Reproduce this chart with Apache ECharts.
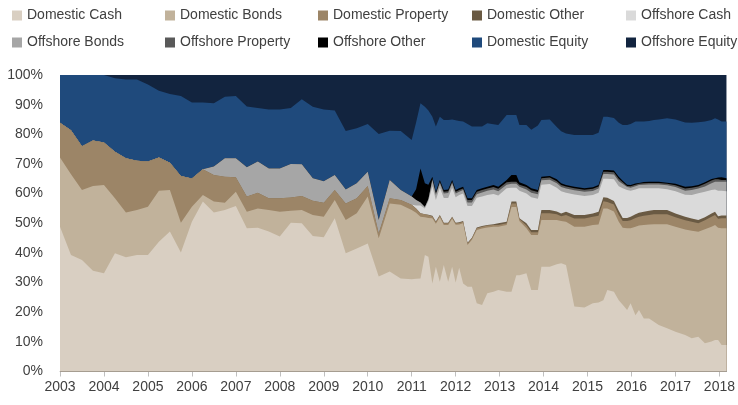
<!DOCTYPE html>
<html>
<head>
<meta charset="utf-8">
<script src="https://cdn.jsdelivr.net/npm/echarts@6/dist/echarts.min.js"></script>
<style>
html, body { margin: 0; padding: 0; background: #fff; }
#chart { width: 738px; height: 405px; }
</style>
</head>
<body>
<div id="chart"></div>
<script>
// decimal years
var dates = [
    2003.00, 2003.25, 2003.50, 2003.75, 2004.00, 2004.25, 2004.50, 2004.75, 2005.00, 2005.25, 2005.50, 2005.75,
    2006.00, 2006.25, 2006.50, 2006.75, 2007.00, 2007.25, 2007.50, 2007.75, 2008.00, 2008.25, 2008.50, 2008.75,
    2009.00, 2009.25, 2009.50, 2009.75, 2010.00, 2010.25, 2010.50, 2010.75, 2011.00,
    2011.10, 2011.20, 2011.30, 2011.38, 2011.47, 2011.55, 2011.64, 2011.73, 2011.83, 2011.92,
    2012.00, 2012.08, 2012.17, 2012.27, 2012.37, 2012.48, 2012.60, 2012.72, 2012.86, 2012.97,
    2013.16, 2013.27, 2013.38, 2013.45, 2013.61, 2013.72, 2013.87, 2013.95,
    2014.14, 2014.30, 2014.40, 2014.51, 2014.70, 2014.93, 2015.12, 2015.25, 2015.36, 2015.45,
    2015.60, 2015.71, 2015.80, 2015.90, 2015.98, 2016.09, 2016.17, 2016.28, 2016.40, 2016.51,
    2016.62, 2016.81, 2017.00, 2017.22, 2017.37, 2017.52, 2017.67, 2017.82, 2017.90, 2017.97,
    2018.05, 2018.16
];

var domesticCash = [
    48.8, 39.3, 37.6, 34.0, 33.1, 39.9, 38.5, 39.3, 39.3, 43.8, 47.2, 40.1,
    50.5, 57.3, 53.6, 54.5, 55.8, 48.3, 48.5, 47.2, 45.5, 50.2, 50.0, 45.7,
    45.3, 51.7, 39.9, 41.5, 43.2, 32.0, 33.7, 31.4, 31.1,
    31.3, 31.4, 39.3, 38.7, 29.7, 35.3, 30.3, 35.9, 30.3, 35.3,
    30.0, 35.0, 29.7, 28.6, 28.6, 23.0, 22.4, 26.4, 26.9, 27.5,
    26.9, 26.9, 32.5, 32.5, 33.1, 27.5, 27.5, 35.3,
    35.3, 36.2, 36.5, 35.9, 21.9, 21.6, 23.0, 23.3, 24.0, 27.5,
    26.9, 24.0, 22.5, 20.7, 23.0, 19.0, 20.7, 17.9, 17.9, 16.8,
    15.7, 14.6, 13.4, 12.3, 11.2, 11.7, 9.5, 10.1, 10.6, 10.6,
    8.9, 8.9
];
var domesticBonds = [
    23.4, 27.2, 23.6, 28.6, 29.8, 18.5, 15.1, 15.2, 16.3, 17.2, 14.0, 10.1,
    5.1, 2.2, 3.7, 2.4, 4.8, 5.6, 6.5, 7.3, 8.4, 4.0, 4.5, 7.1,
    6.9, 6.1, 11.2, 11.9, 15.8, 12.9, 23.0, 24.8, 23.4,
    22.2, 20.8, 12.7, 13.1, 22.0, 14.5, 21.7, 13.5, 19.1, 16.2,
    19.5, 14.6, 20.3, 14.1, 15.8, 24.7, 25.8, 22.2, 21.9, 21.3,
    22.5, 28.6, 23.0, 18.3, 15.2, 18.5, 18.5, 15.8,
    15.8, 14.9, 14.3, 14.6, 26.9, 27.2, 26.4, 26.3, 31.0, 27.5,
    27.1, 26.5, 26.0, 27.6, 25.3, 29.8, 28.5, 31.5, 31.7, 32.9,
    34.0, 35.1, 35.4, 35.6, 36.3, 35.4, 38.5, 38.7, 38.8, 37.9,
    39.4, 39.4
];
var domesticProperty = [
    11.7, 14.9, 14.8, 15.3, 14.3, 15.7, 18.3, 16.6, 15.2, 11.2, 9.2, 15.7,
    9.5, 8.7, 9.0, 8.8, 4.9, 5.1, 5.3, 3.9, 4.5, 4.5, 4.7, 4.8,
    4.7, 3.4, 5.6, 5.0, 3.6, 1.7, 1.7, 1.6, 1.7,
    1.5, 1.2, 1.0, 1.0, 0.6, 0.6, 0.6, 0.6, 0.6, 0.5,
    0.5, 0.5, 0.5, 0.5, 0.5, 0.6, 0.6, 0.6, 0.6, 0.6,
    0.6, 1.2, 1.2, 0.6, 0.9, 1.0, 1.0, 2.3,
    2.3, 1.9, 1.6, 2.3, 2.8, 2.8, 2.8, 2.9, 2.4, 2.2,
    2.3, 2.3, 2.3, 2.5, 2.7, 3.0, 3.0, 3.1, 3.2, 3.3,
    3.3, 3.3, 3.2, 3.1, 3.0, 2.9, 3.0, 3.4, 3.4, 3.0,
    3.4, 3.4
];
var domesticOther = [
    0, 0, 0, 0, 0, 0, 0, 0, 0, 0, 0, 0,
    0, 0, 0, 0, 0, 0, 0, 0, 0, 0, 0, 0,
    0, 0, 0, 0, 0, 0, 0, 0, 0,
    0, 0, 0, 0.1, 0.2, 0.2, 0.2, 0.2, 0.2, 0.2,
    0.2, 0.2, 0.3, 0.2, 0.2, 0.3, 0.3, 0.2, 0.3, 0.6,
    0.5, 0.6, 0.6, 0.3, 0.8, 0.7, 0.7, 1.1,
    1.1, 1.0, 0.9, 1.1, 1.2, 1.2, 1.1, 1.4, 1.4, 1.4,
    1.2, 1.4, 1.0, 1.0, 1.2, 1.2, 1.3, 1.4, 1.4, 1.5,
    1.5, 1.5, 1.3, 1.2, 1.1, 1.1, 1.0, 1.1, 1.1, 0.9,
    0.9, 0.9
];
var offshoreCash = [
    0, 0, 0, 0, 0, 0, 0, 0, 0, 0, 0, 0,
    0, 0, 0, 0, 0, 0, 0, 0, 0, 0, 0, 0,
    0, 0, 0, 0, 0, 0, 0, 0, 0,
    1.0, 2.6, 2.0, 4.6, 10.0, 7.2, 9.2, 8.3, 8.3, 9.8,
    8.6, 9.2, 9.2, 12.4, 10.7, 10.0, 9.9, 10.1, 10.2, 9.4,
    11.3, 4.7, 4.7, 9.3, 10.0, 11.1, 10.6, 8.5,
    8.7, 8.0, 7.5, 6.4, 6.9, 6.4, 6.2, 6.4, 6.2, 6.4,
    7.3, 8.3, 10.0, 9.4, 8.8, 8.4, 8.3, 7.9, 7.6, 7.3,
    7.3, 7.0, 7.5, 7.4, 7.9, 9.0, 8.6, 7.9, 7.5, 8.6,
    8.4, 8.2
];
var offshoreBonds = [
    0, 0, 0, 0, 0, 0, 0, 0, 0, 0, 0, 0,
    0, 0, 2.8, 6.2, 6.4, 9.9, 10.5, 10.1, 10.1, 11.3, 10.7, 7.6,
    7.3, 5.1, 4.7, 5.1, 4.8, 4.5, 6.2, 3.4, 2.8,
    1.8, 1.0, 0.5, 0.5, 2.0, 1.7, 1.5, 1.5, 1.7, 1.5,
    1.2, 1.1, 1.2, 1.2, 1.2, 1.2, 1.4, 1.5, 1.5, 1.4,
    1.2, 1.3, 1.3, 1.3, 1.4, 1.5, 1.5, 1.5,
    1.5, 1.5, 1.4, 1.4, 1.4, 1.4, 1.4, 1.4, 1.6, 1.6,
    1.6, 1.7, 1.4, 1.0, 1.0, 1.1, 1.1, 1.2, 1.3, 1.3,
    1.3, 1.3, 1.4, 1.4, 1.7, 1.6, 1.8, 2.3, 2.6, 3.0,
    3.0, 3.2
];
var offshoreProperty = [
    0, 0, 0, 0, 0, 0, 0, 0, 0, 0, 0, 0,
    0, 0, 0, 0, 0, 0, 0, 0, 0, 0, 0, 0,
    0, 0, 0, 0, 0, 0, 0, 0, 0,
    0, 0, 0, 0.3, 0.5, 0.5, 0.5, 0.6, 0.6, 0.5,
    0.6, 0.6, 0.5, 0.8, 0.8, 0.8, 0.8, 0.7, 0.8, 0.8,
    0.8, 0.7, 0.7, 0.7, 0.8, 0.8, 0.7, 0.7,
    0.7, 0.7, 0.7, 0.7, 0.7, 0.7, 0.7, 0.7, 0.8, 0.8,
    0.8, 0.8, 0.6, 0.4, 0.5, 0.5, 0.4, 0.5, 0.5, 0.5,
    0.5, 0.5, 0.6, 0.7, 0.8, 0.7, 0.9, 0.9, 0.8, 0.8,
    0.6, 0.6
];
var offshoreOther = [
    0, 0, 0, 0, 0, 0, 0, 0, 0, 0, 0, 0,
    0, 0, 0, 0, 0, 0, 0, 0, 0, 0, 0, 0,
    0, 0, 0, 0, 0, 0, 0, 0, 0,
    3.7, 11.5, 8.0, 4.7, 0.7, 0.6, 0.6, 0.6, 0.6, 0.6,
    0.6, 0.6, 0.6, 0.6, 0.6, 0.6, 0.6, 0.6, 0.7, 0.7,
    0.8, 2.3, 2.3, 0.8, 0.7, 0.7, 0.7, 0.5,
    0.5, 0.6, 0.6, 0.5, 0.5, 0.5, 0.5, 0.5, 0.6, 0.6,
    0.6, 0.7, 0.5, 0.4, 0.4, 0.4, 0.3, 0.4, 0.4, 0.4,
    0.4, 0.4, 0.5, 0.6, 0.5, 0.5, 0.5, 0.5, 0.4, 0.6,
    0.9, 0.6
];
var domesticEquity = [
    16.1, 18.6, 24.0, 22.1, 22.8, 24.8, 26.6, 27.4, 26.0, 22.5, 23.2, 27.0,
    25.6, 22.5, 21.4, 20.8, 21.0, 20.5, 18.1, 19.9, 19.9, 18.9, 21.9, 24.1,
    24.2, 21.7, 19.7, 18.5, 16.1, 29.0, 16.6, 19.9, 19.1,
    22.5, 22.0, 25.8, 25.0, 20.2, 22.0, 21.3, 23.6, 23.4, 20.4,
    23.5, 22.7, 22.0, 25.1, 24.2, 21.4, 20.8, 21.4, 20.5, 20.8,
    21.9, 20.2, 20.2, 19.3, 20.2, 19.7, 21.8, 19.1,
    19.1, 17.7, 17.5, 17.4, 17.5, 18.0, 17.7, 17.6, 17.9, 17.9,
    17.7, 18.2, 18.8, 20.1, 20.6, 20.9, 20.7, 20.4, 20.5, 20.8,
    21.0, 21.7, 21.7, 21.7, 21.4, 21.2, 20.5, 19.9, 20.2, 19.6,
    18.8, 19.1
];
var offshoreEquity = [
    0, 0, 0, 0, 0, 1.1, 1.5, 1.5, 3.2, 5.3, 6.4, 7.1,
    9.3, 9.3, 9.5, 7.3, 7.1, 10.6, 11.1, 11.6, 11.6, 11.1, 8.2, 10.7,
    11.6, 12.0, 18.9, 18.0, 16.5, 19.9, 18.8, 18.9, 21.9,
    16.0, 9.5, 10.7, 12.0, 14.1, 17.4, 14.1, 15.2, 15.2, 15.0,
    15.3, 15.5, 15.7, 16.5, 17.4, 17.4, 17.4, 16.3, 16.6, 16.9,
    13.5, 13.5, 13.5, 16.9, 16.9, 18.5, 17.0, 15.2,
    15.0, 17.5, 19.0, 19.7, 20.2, 20.2, 20.2, 19.5, 14.1, 14.1,
    14.5, 16.1, 16.9, 16.9, 16.5, 15.7, 15.7, 15.7, 15.5, 15.2,
    15.0, 14.6, 15.0, 16.0, 16.1, 15.9, 15.7, 15.2, 14.6, 15.0,
    15.7, 15.7
];

var yearTicks = [2003, 2004, 2005, 2006, 2007, 2008, 2009, 2010, 2011, 2012, 2013, 2014, 2015, 2016, 2017, 2018];

var seriesDefs = [
    {name: 'Domestic Cash', data: domesticCash, color: '#d9cfc2'},
    {name: 'Domestic Bonds', data: domesticBonds, color: '#c1b29b'},
    {name: 'Domestic Property', data: domesticProperty, color: '#9c8567'},
    {name: 'Domestic Other', data: domesticOther, color: '#6a5a43'},
    {name: 'Offshore Cash', data: offshoreCash, color: '#dadada'},
    {name: 'Offshore Bonds', data: offshoreBonds, color: '#a6a6a6'},
    {name: 'Offshore Property', data: offshoreProperty, color: '#595959'},
    {name: 'Offshore Other', data: offshoreOther, color: '#000000'},
    {name: 'Domestic Equity', data: domesticEquity, color: '#1f4a7c'},
    {name: 'Offshore Equity', data: offshoreEquity, color: '#12243f'}
];

var font = "'Liberation Sans', Arial, sans-serif";
var textColor = '#404040';

// running totals: each area is filled from the axis up to its cumulative top,
// drawn from the top layer down so the lower layers paint over
var running = dates.map(function () { return 0; });
var stacked = seriesDefs.map(function (s) {
    running = running.map(function (v, i) { return v + s.data[i]; });
    return running.slice();
});

var series = [];
for (var k = seriesDefs.length - 1; k >= 0; k--) {
    (function (s, tops) {
        series.push({
            name: s.name,
            type: 'line',
            symbol: 'none',
            color: s.color,
            itemStyle: {color: s.color},
            lineStyle: {width: 0},
            areaStyle: {color: s.color, opacity: 1, origin: 'start'},
            data: dates.map(function (d, i) { return [d, Math.min(tops[i], 100)]; })
        });
    })(seriesDefs[k], stacked[k]);
}

// legend: 2 rows x 5 columns, one component per item
var legendCols = [12, 165, 318, 472, 626];
var legendRows = [2, 29];
var legends = seriesDefs.map(function (s, i) {
    return {
        data: [s.name],
        left: legendCols[i % 5],
        top: legendRows[Math.floor(i / 5)],
        padding: 0,
        icon: 'rect',
        itemWidth: 10,
        itemHeight: 10,
        itemTextGap: 3,
        selectedMode: false,
        textStyle: {color: textColor, fontSize: 14, fontFamily: font, lineHeight: 27}
    };
});

var myChart = echarts.init(document.getElementById('chart'));
myChart.setOption({
    animation: false,
    legend: legends,
    grid: {
        left: 60,
        right: 6,
        top: 75,
        bottom: 33.5,
        containLabel: false
    },
    xAxis: {
        type: 'value',
        min: 2003,
        max: 2018.16,
        splitLine: {show: false},
        axisLine: {show: true, lineStyle: {color: '#bfbfbf'}},
        axisTick: {show: true, length: 5, customValues: yearTicks, lineStyle: {color: '#bfbfbf'}},
        axisLabel: {
            customValues: yearTicks,
            color: textColor,
            fontSize: 14,
            fontFamily: font,
            margin: 9,
            formatter: function (v) { return Math.round(v) === v ? String(v) : ''; }
        }
    },
    yAxis: {
        type: 'value',
        min: 0,
        max: 100,
        interval: 10,
        splitLine: {show: false},
        axisLine: {show: false},
        axisTick: {show: false},
        axisLabel: {
            formatter: '{value}%',
            color: textColor,
            fontSize: 14,
            fontFamily: font,
            margin: 17
        }
    },
    series: series
});
</script>
</body>
</html>
